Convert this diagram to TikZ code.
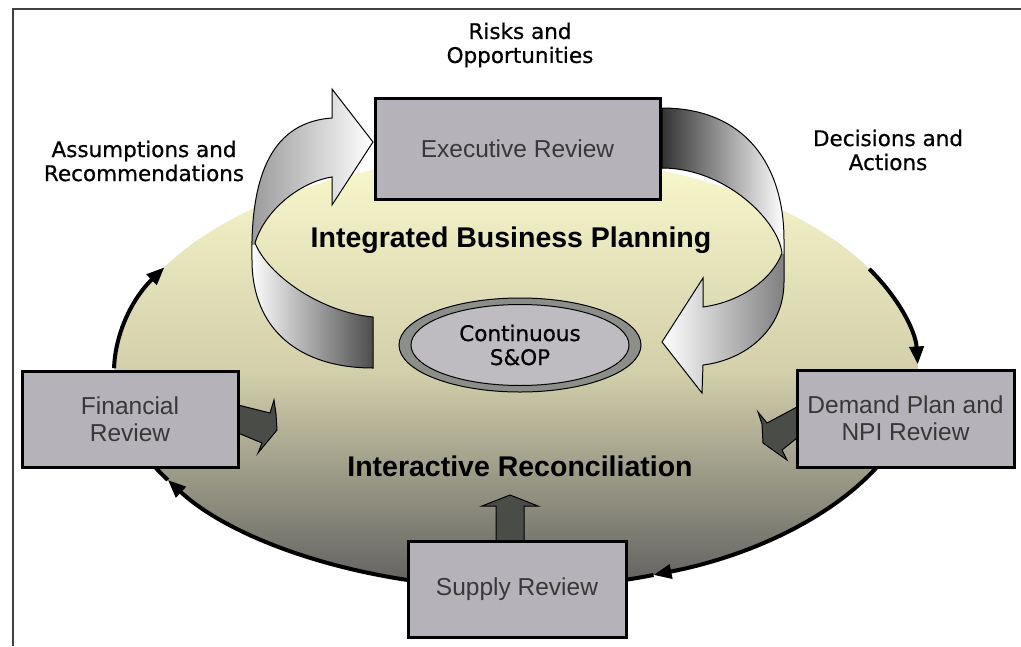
\documentclass[tikz,border=0pt]{standalone}
\usepackage{fontspec}
\setmainfont{Liberation Sans}
\newfontfamily\lbl[FakeBold=0.6]{DejaVu Sans}
\usetikzlibrary{arrows.meta,calc,shapes.geometric}
\definecolor{boxgray}{RGB}{181,179,185}
\definecolor{darkarrow}{RGB}{74,76,72}
\definecolor{ringgray}{RGB}{140,142,138}
\definecolor{innergray}{RGB}{190,188,192}
\definecolor{elltop}{RGB}{250,248,204}
\definecolor{ellmid}{RGB}{210,207,170}
\definecolor{ellbot}{RGB}{96,96,96}
\newcommand\lapath{(373,368) .. controls (300,368) and (252,330) .. (252,260) .. controls (250,170) and (275,122) .. (332,118) -- (332,89) -- (373,142) -- (332,205) -- (332,177) .. controls (300,182) and (265,210) .. (255,243) .. controls (268,275) and (320,312) .. (373,317) -- cycle}
\newcommand\rapath{(662,108) .. controls (745,108) and (784,165) .. (784,240) -- (784,282) .. controls (784,330) and (745,360) .. (703,365) -- (702,393) -- (662,342) -- (703,278) -- (703,307) .. controls (740,302) and (772,280) .. (782,253) .. controls (778,220) and (725,168) .. (662,168) -- cycle}
\begin{document}
\begin{tikzpicture}[x=1pt,y=-1pt,
  review/.style={draw=black,line width=3pt,fill=boxgray,inner sep=0pt,align=center,text=black!78,font=\fontsize{24.5}{27}\selectfont},
  lab/.style={inner sep=0pt,align=center,font=\lbl\fontsize{21.5}{24}\selectfont},
  big/.style={inner sep=0pt,font=\bfseries\fontsize{28.5}{32}\selectfont},
  flow/.style={line width=4pt,black},
  tipflow/.style={flow,-{Triangle[length=18pt,width=14pt]}},
  blk/.style={fill=darkarrow,draw=black,line width=1pt,line join=miter},
  rib/.style={draw=black,line width=1pt}]
\useasboundingbox (0,0) rectangle (1021,646);
\fill[white] (0,0) rectangle (1021,646);
\draw[black!75,line width=1.5pt] (13,646) -- (13,9) -- (1021,9);
% big ellipse
\coordinate (E) at (516,372);
\shade[top color=elltop,bottom color=ellbot,middle color=ellmid] (E) ellipse[x radius=402,y radius=216];
% flow arcs on the ellipse
\coordinate (a1) at ($(E)+(-28.5:402 and 216)$);
\coordinate (a2) at ($(E)+(-179:402 and 216)$);
\coordinate (a3) at ($(E)+(104:402 and 216)$);
\coordinate (a3m) at ($(E)+(150:402 and 216)$);
\coordinate (a4) at ($(E)+(24:402 and 216)$);
\coordinate (a4m) at ($(E)+(70:402 and 216)$);
\draw[tipflow] (a1) arc[start angle=-28.5,end angle=-2,x radius=402,y radius=216];
\draw[tipflow] (a2) arc[start angle=-179,end angle=-151,x radius=402,y radius=216];
\draw[tipflow] (a3) arc[start angle=104,end angle=150,x radius=402,y radius=216];
\draw[flow] (a3m) arc[start angle=150,end angle=157,x radius=402,y radius=216];
\draw[tipflow] (a4) arc[start angle=24,end angle=70,x radius=402,y radius=216];
\draw[flow] (a4m) arc[start angle=70,end angle=76,x radius=402,y radius=216];
% left curved arrow
\begin{scope}
  \clip (0,0) rectangle (1021,245);
  \shade[left color=black!40,right color=white] \lapath;
\end{scope}
\begin{scope}
  \clip (0,245) rectangle (1021,646);
  \shade[left color=white,right color=black!70] \lapath;
\end{scope}
\draw[rib] \lapath;
% right curved arrow
\begin{scope}
  \clip (0,0) rectangle (1021,254);
  \shade[left color=black!80,right color=white] \rapath;
\end{scope}
\begin{scope}
  \clip (0,254) rectangle (1021,646);
  \shade[left color=white,right color=black!50] \rapath;
\end{scope}
\draw[rib] \rapath;
% small block arrows
\filldraw[blk] (238,405) -- (270,413) -- (274,400) -- (276,414) -- (277,430) -- (258,453) -- (262,443) -- (238,433) -- cycle;
\filldraw[blk] (797,407) -- (767,423) -- (758,412) -- (762,424) -- (763,443) -- (787,460) -- (782,450) -- (797,438) -- cycle;
\filldraw[blk] (496,541) -- (496,506) -- (482,506) -- (510,495) -- (538,506) -- (524,506) -- (524,541) -- cycle;
% boxes
\node[review,minimum width=285pt,minimum height=101pt] (exec) at (517.5,148.5) {Executive Review};
\node[review,minimum width=216pt,minimum height=96pt] (fin) at (130,419) {Financial\\Review};
\node[review,minimum width=217pt,minimum height=97pt] (dem) at (905.5,418.5) {Demand Plan and\\NPI Review};
\node[review,minimum width=218pt,minimum height=96pt] (sup) at (517,589) {Supply Review};
% continuous S&OP
\filldraw[fill=ringgray,draw=black,line width=1pt] (520,345) ellipse[x radius=121,y radius=47];
\node[ellipse,draw=black,line width=1pt,fill=innergray,
      minimum width=218pt,minimum height=81pt,inner sep=0pt,align=center,
      font=\lbl\fontsize{21.5}{24}\selectfont] (cso) at (520,345) {Continuous\\S\&OP};
% labels
\node[lab] (ro) at (520,45) {Risks and\\Opportunities};
\node[lab] (ar) at (144,161) {Assumptions and\\Recommendations};
\node[lab] (da) at (888,150) {Decisions and\\Actions};
\node[big] (ibp) at (511,240) {Integrated Business Planning};
\node[big] (irc) at (520,466) {Interactive Reconciliation};
\end{tikzpicture}
\end{document}
